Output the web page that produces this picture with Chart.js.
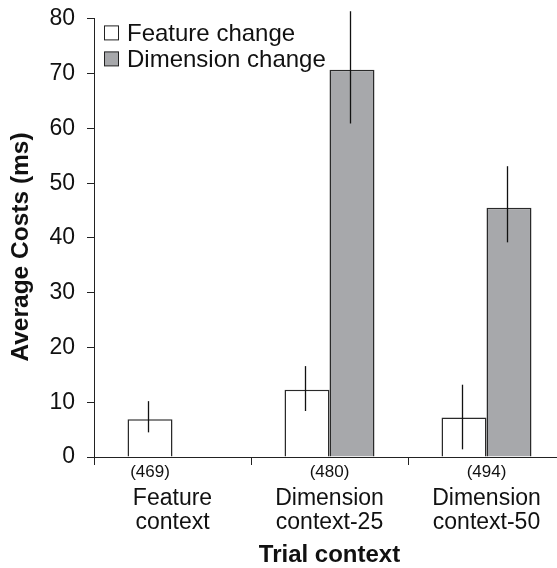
<!DOCTYPE html>
<html>
<head>
<meta charset="utf-8">
<script src="https://cdn.jsdelivr.net/npm/chart.js@4/dist/chart.umd.min.js"></script>
<style>
html,body{margin:0;padding:0;overflow:hidden;background:#fff}
#wrap{position:relative;width:565px;height:568px}
</style>
</head>
<body>
<div id="wrap"><canvas id="c"></canvas></div>
<script>
// ---- data ----
const categories = [["Feature", "context"], ["Dimension", "context-25"], ["Dimension", "context-50"]];
const trialCounts = ["(469)", "(480)", "(494)"];
const seriesNames = ["Feature change", "Dimension change"];
const featureChange = [6.9, 12.3, 7.2];
const featureLow = [4.5, 8.4, 1.4];
const featureHigh = [10.2, 16.6, 13.2];
const dimensionChange = [null, 70.7, 45.5];
const dimensionLow = [null, 60.9, 39.2];
const dimensionHigh = [null, 81.4, 53.1];
const yTicks = [0, 10, 20, 30, 40, 50, 60, 70, 80];
const xTitle = "Trial context";
const yTitle = "Average Costs (ms)";

const FONT = "'Liberation Sans', Arial, Helvetica, sans-serif";
const INK = "#111";
const seriesFill = ["#ffffff", "#a7a8ab"];
const seriesLow = [featureLow, dimensionLow];
const seriesHigh = [featureHigh, dimensionHigh];

const errorBarPlugin = {
  id: "errorBars",
  afterDatasetsDraw(chart) {
    const ctx = chart.ctx, y = chart.scales.y;
    ctx.save();
    ctx.strokeStyle = INK;
    ctx.lineWidth = 1.3;
    chart.data.datasets.forEach((ds, d) => {
      const meta = chart.getDatasetMeta(d);
      meta.data.forEach((bar, i) => {
        const lo = seriesLow[d][i], hi = seriesHigh[d][i];
        if (lo == null || hi == null) return;
        const x = Math.round(bar.x) - 1.5;
        ctx.beginPath();
        ctx.moveTo(x, y.getPixelForValue(lo));
        ctx.lineTo(x, y.getPixelForValue(hi));
        ctx.stroke();
      });
    });
    ctx.restore();
  }
};

const countsPlugin = {
  id: "counts",
  afterDraw(chart) {
    const ctx = chart.ctx, xs = chart.scales.x;
    const m0 = chart.getDatasetMeta(0);
    ctx.save();
    ctx.fillStyle = INK;
    ctx.font = "17px " + FONT;
    ctx.textAlign = "center";
    ctx.textBaseline = "middle";
    trialCounts.forEach((t, i) => {
      const x = dimensionChange[i] == null ? m0.data[i].x : xs.getPixelForValue(i);
      ctx.fillText(t, x, xs.top + 15);
    });
    ctx.restore();
  }
};

const yTitlePlugin = {
  id: "yTitle",
  afterDraw(chart) {
    const ctx = chart.ctx, a = chart.chartArea;
    ctx.save();
    ctx.translate(21, (a.top + a.bottom) / 2 + 9);
    ctx.rotate(-Math.PI / 2);
    ctx.font = "bold 24.5px " + FONT;
    ctx.fillStyle = INK;
    ctx.textAlign = "center";
    ctx.textBaseline = "middle";
    ctx.fillText(yTitle, 0, 0);
    ctx.restore();
  }
};

const legendPlugin = {
  id: "boxLegend",
  afterDraw(chart) {
    const ctx = chart.ctx, a = chart.chartArea;
    ctx.save();
    ctx.font = "24px " + FONT;
    ctx.textBaseline = "middle";
    chart.data.datasets.forEach((ds, d) => {
      const cy = a.top + 14 + d * 26;
      const bx = a.left + 10.5;
      ctx.fillStyle = ds.backgroundColor;
      ctx.fillRect(bx, cy - 7, 14, 14);
      ctx.strokeStyle = "#222";
      ctx.lineWidth = 1;
      ctx.strokeRect(bx, cy - 7, 14, 14);
      ctx.fillStyle = INK;
      ctx.fillText(ds.label, a.left + 33, cy + 1);
    });
    ctx.restore();
  }
};

new Chart(document.getElementById("c"), {
  type: "bar",
  data: {
    labels: categories,
    datasets: [
      { label: seriesNames[0], data: featureChange, backgroundColor: seriesFill[0],
        borderColor: "#2a2a2a", borderWidth: 1.5, borderSkipped: "start" },
      { label: seriesNames[1], data: dimensionChange, backgroundColor: seriesFill[1],
        borderColor: "#2a2a2a", borderWidth: 1.5, borderSkipped: "start" }
    ]
  },
  options: {
    responsive: true,
    maintainAspectRatio: false,
    animation: false,
    layout: { padding: { top: 18, right: 0, left: 0, bottom: 0 } },
    datasets: { bar: { categoryPercentage: 0.573, barPercentage: 1.0 } },
    plugins: { legend: { display: false }, tooltip: { enabled: false } },
    scales: {
      x: {
        offset: true,
        grid: { display: true, offset: true, drawOnChartArea: false, drawTicks: true,
                tickLength: 8, color: "#222", lineWidth: 1 },
        border: { display: true, color: "#222", width: 1 },
        ticks: { color: INK, font: { family: FONT, size: 23, lineHeight: 1.02 },
                 padding: 22, maxRotation: 0, autoSkip: false },
        title: { display: true, text: xTitle, color: INK,
                 font: { family: FONT, size: 24, weight: "bold", lineHeight: 1.0 },
                 padding: { top: 0, bottom: 1 } },
        afterFit(s) { s.height = 111; }
      },
      y: {
        min: 0, max: 80,
        afterBuildTicks(s) { s.ticks = yTicks.map(v => ({ value: v })); },
        grid: { display: true, drawOnChartArea: false, drawTicks: true, tickLength: 7,
                color: "#222", lineWidth: 1 },
        border: { display: true, color: "#222", width: 1 },
        ticks: { color: INK, font: { family: FONT, size: 23, lineHeight: 0.6 }, padding: 12 },
        title: { display: false },
        afterFit(s) { s.width = 94; }
      }
    }
  },
  plugins: [errorBarPlugin, countsPlugin, yTitlePlugin, legendPlugin]
});
</script>
</body>
</html>
